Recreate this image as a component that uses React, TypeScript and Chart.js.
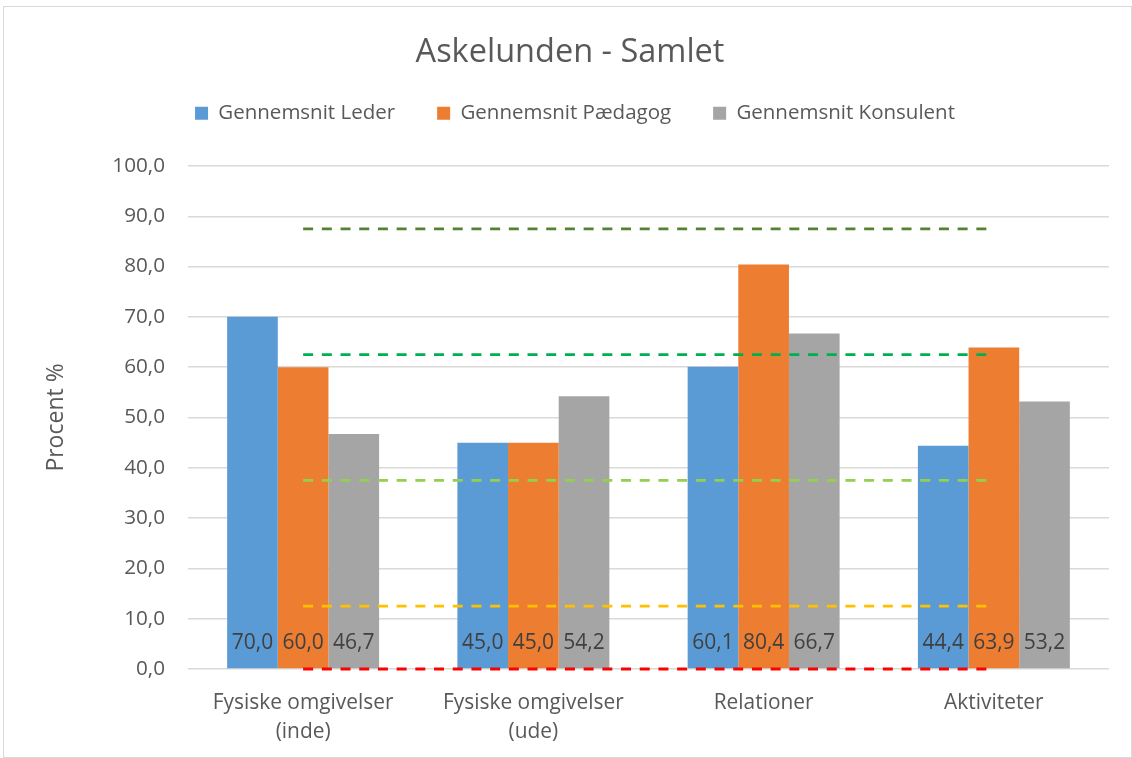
import React, { useEffect, useRef } from 'react';
import { Chart, registerables } from 'chart.js';

Chart.register(...registerables);

const chartTitle = 'Askelunden - Samlet';
const yAxisTitle = 'Procent %';
const categories = [['Fysiske omgivelser', '(inde)'], ['Fysiske omgivelser', '(ude)'], 'Relationer', 'Aktiviteter'];
const seriesNames = ['Gennemsnit Leder', 'Gennemsnit Pædagog', 'Gennemsnit Konsulent'];
const lederValues = [70.0, 45.0, 60.1, 44.4];
const paedagogValues = [60.0, 45.0, 80.4, 63.9];
const konsulentValues = [46.7, 54.2, 66.7, 53.2];
const levelDarkGreen = [87.5, 87.5, 87.5, 87.5];
const levelGreen = [62.5, 62.5, 62.5, 62.5];
const levelLightGreen = [37.5, 37.5, 37.5, 37.5];
const levelYellow = [12.5, 12.5, 12.5, 12.5];
const levelRed = [0, 0, 0, 0];
const yMin = 0;
const yMax = 100;
const yStep = 10;

const FONT = '"Open Sans", sans-serif';
const TEXT = '#595959';

const fmt = (v: number) => v.toFixed(1).replace('.', ',');

const bottomLabels = {
  id: 'bottomLabels',
  afterDatasetsDraw(chart: any) {
    const { ctx, chartArea } = chart;
    ctx.save();
    ctx.font = `21px ${FONT}`;
    ctx.fillStyle = '#404040';
    ctx.textAlign = 'center';
    ctx.textBaseline = 'middle';
    chart.data.datasets.forEach((ds: any, i: number) => {
      if (ds.type !== 'bar') return;
      const meta = chart.getDatasetMeta(i);
      meta.data.forEach((el: any, j: number) => {
        ctx.fillText(fmt(ds.data[j]), el.x, chartArea.bottom - 25.5);
      });
    });
    ctx.restore();
  },
};

// nudge the centred title and legend horizontally to sit where the reference has them
const shiftBoxes = {
  id: 'shiftBoxes',
  afterLayout(chart: any) {
    const t = chart.titleBlock;
    if (t) { t.left += 13.5; t.right += 13.5; }
    const l = chart.legend;
    if (l) { l.left += 18.5; l.right += 18.5; }
  },
};

export default function App() {
  const ref = useRef<HTMLCanvasElement | null>(null);
  useEffect(() => {
    if (!ref.current) return;
    const line = (data: number[], color: string, width: number) => ({
      type: 'line' as const,
      label: '',
      data,
      borderColor: color,
      backgroundColor: color,
      borderWidth: width,
      borderDash: [10, 8.7],
      pointRadius: 0,
      pointHoverRadius: 0,
      fill: false,
      clip: false,
      order: 0,
    });
    const bar = (label: string, data: number[], color: string) => ({
      type: 'bar' as const,
      label,
      data,
      backgroundColor: color,
      borderWidth: 0,
      categoryPercentage: 0.66,
      barPercentage: 1,
      order: 1,
    });
    const chart = new Chart(ref.current, {
      type: 'bar',
      data: {
        labels: categories,
        datasets: [
          bar(seriesNames[0], lederValues, '#5B9BD5'),
          bar(seriesNames[1], paedagogValues, '#ED7D31'),
          bar(seriesNames[2], konsulentValues, '#A5A5A5'),
          line(levelDarkGreen, '#548235', 2.7),
          line(levelGreen, '#00B050', 2.7),
          line(levelLightGreen, '#92D050', 2.7),
          line(levelYellow, '#FFC000', 2.7),
          line(levelRed, '#FF0000', 3.2),
        ] as any,
      },
      options: {
        animation: false,
        responsive: true,
        maintainAspectRatio: false,
        layout: { padding: { left: 0, right: 22, top: 0, bottom: 0 } },
        plugins: {
          tooltip: { enabled: false },
          title: {
            display: true,
            text: chartTitle,
            color: TEXT,
            font: { family: FONT, size: 32.5, weight: 'normal', lineHeight: 0.5 },
            padding: { top: 37.85, bottom: 0 },
          },
          legend: {
            display: true,
            position: 'top',
            weight: 1600,
            labels: {
              color: TEXT,
              font: { family: FONT, size: 20.5 },
              boxWidth: 13,
              boxHeight: 13,
              padding: 42,
              filter: (item: any, data: any) => data.datasets[item.datasetIndex].type === 'bar',
            },
          } as any,
          subtitle: {
            display: true,
            text: '',
            font: { family: FONT, size: 10, lineHeight: 1 },
            padding: { top: 22.35, bottom: 0 },
          },
        },
        scales: {
          x: {
            grid: { display: false },
            border: { display: false },
            ticks: {
              color: TEXT,
              font: { family: FONT, size: 20.9, lineHeight: 1.39 },
              padding: 11.5,
              maxRotation: 0,
              autoSkip: false,
            },
            afterFit: (s: any) => { s.height = 88; },
          },
          y: {
            min: yMin,
            max: yMax,
            grid: { color: '#D9D9D9', lineWidth: 1.5, drawTicks: false },
            border: { display: false },
            ticks: {
              stepSize: yStep,
              color: TEXT,
              font: { family: FONT, size: 20.7 },
              padding: 23,
              callback: (v: any) => fmt(Number(v)),
            },
            title: {
              display: true,
              text: yAxisTitle,
              color: TEXT,
              font: { family: FONT, size: 23 },
              padding: { top: 38.2, bottom: 0 },
            },
            afterFit: (s: any) => { s.width = 184; },
          },
        },
      } as any,
      plugins: [bottomLabels, shiftBoxes],
    });
    return () => chart.destroy();
  }, []);
  return (
    <div
      style={{
        position: 'absolute',
        left: 3,
        top: 6,
        width: 1127,
        height: 750,
        border: '1px solid #D9D9D9',
        background: '#fff',
      }}
    >
      <canvas ref={ref} />
    </div>
  );
}
